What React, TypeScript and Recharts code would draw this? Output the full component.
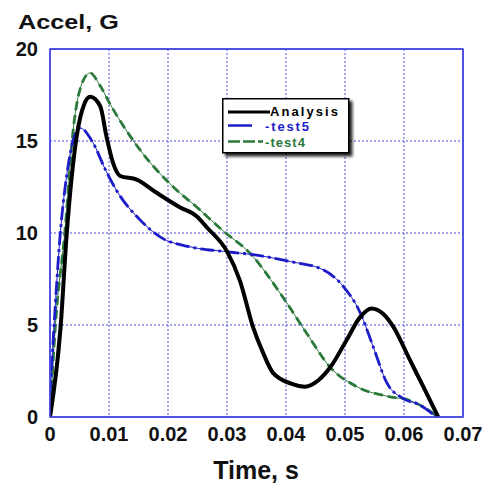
import React from "react"
import { LineChart, Line, XAxis, YAxis, CartesianGrid, ReferenceArea } from "recharts"

// time (s), accel (G)
const analysisT = [0, 0.0018, 0.0028, 0.0045, 0.0058, 0.0068, 0.0085, 0.0096, 0.0107, 0.0119, 0.0147, 0.018, 0.022, 0.0249, 0.0266, 0.03, 0.0322, 0.0344, 0.0361, 0.0378, 0.041, 0.0432, 0.0455, 0.0475, 0.0503, 0.0525, 0.0545, 0.0565, 0.0582, 0.061, 0.0635, 0.0658]
const analysisG = [0, 4.9, 9.8, 15.2, 17.0, 17.4, 16.9, 15.2, 13.8, 13.1, 12.9, 12.2, 11.4, 10.9, 10.3, 9.0, 7.4, 4.9, 3.5, 2.4, 1.8, 1.65, 2.0, 2.7, 4.2, 5.4, 5.9, 5.6, 4.9, 3.1, 1.5, 0]

const test5T = [0, 0.0006, 0.0017, 0.003, 0.0042, 0.0051, 0.0073, 0.0093, 0.0113, 0.0153, 0.0186, 0.0237, 0.0294, 0.035, 0.0407, 0.0463, 0.0497, 0.0526, 0.0548, 0.0571, 0.0599, 0.0627, 0.0655]
const test5G = [1.2, 4.5, 9.8, 13.5, 15.3, 15.7, 14.9, 13.5, 12.3, 10.7, 9.8, 9.25, 9.0, 8.8, 8.45, 8.0, 7.1, 5.65, 3.8, 1.85, 1.0, 0.65, 0]

const test4T = [0, 0.0009, 0.0025, 0.004, 0.0055, 0.0068, 0.0085, 0.0102, 0.0153, 0.0209, 0.0249, 0.0294, 0.0339, 0.0395, 0.0435, 0.0475, 0.052, 0.0576, 0.061, 0.0635, 0.0658]
const test4G = [0, 4.9, 10, 15.8, 18.2, 18.7, 18.0, 17.0, 14.5, 12.5, 11.4, 10.1, 8.9, 6.5, 4.55, 2.7, 1.65, 1.1, 0.9, 0.5, 0]

const xTicks = [0, 0.01, 0.02, 0.03, 0.04, 0.05, 0.06, 0.07]
const yTicks = [0, 5, 10, 15, 20]

const BLUE = "#1c1cc8"
const GREEN = "#2b7a3b"
const GRID = "#4a4ae0"
const FONT = '"Liberation Sans", Arial, sans-serif'

const toRows = (t: number[], g: number[]) => t.map((x, i) => ({ t: x, g: g[i] }))
const analysis = toRows(analysisT, analysisG)
const test5 = toRows(test5T, test5G)
const test4 = toRows(test4T, test4G)

const tickStyle = { fontSize: 20, fontWeight: "bold" as const, fill: "#111", fontFamily: FONT }

function LegendBox() {
  return (
    <svg width={132} height={60} style={{ position: "absolute", left: 222, top: 98, overflow: "visible", pointerEvents: "none" }}>
      <rect x={0.75} y={0.75} width={126} height={54} fill="#fff" stroke="#000" strokeWidth={1.5} style={{ filter: "drop-shadow(3px 3px 1.5px rgba(0,0,0,0.85))" }} />
      <line x1={6} x2={48} y1={14} y2={14} stroke="#000" strokeWidth={3} />
      <text x={48} y={18} fontFamily={FONT} fontWeight="bold" fontSize={13} fill="#000" textLength={68}>Analysis</text>
      <line x1={6} x2={30} y1={27.5} y2={27.5} stroke={BLUE} strokeWidth={2.5} />
      <text x={43} y={32.5} fontFamily={FONT} fontWeight="bold" fontSize={13} fill={BLUE} textLength={44}>-test5</text>
      <line x1={6} x2={41} y1={43.5} y2={43.5} stroke={GREEN} strokeWidth={2.5} strokeDasharray="12 3" />
      <text x={43} y={48.5} fontFamily={FONT} fontWeight="bold" fontSize={13} fill={GREEN} textLength={40}>-test4</text>
    </svg>
  )
}

export default function App() {
  return (
    <div style={{ position: "absolute", left: 0, top: 0, width: 486, height: 483, background: "#fff" }}>
      <LineChart width={486} height={483} margin={{ top: 49, right: 23, left: 0, bottom: 0 }}>
        <CartesianGrid stroke={GRID} strokeDasharray="2 2" strokeWidth={1} />
        <XAxis
          dataKey="t"
          type="number"
          domain={[0, 0.07]}
          ticks={xTicks}
          allowDataOverflow
          height={66}
          axisLine={{ stroke: GRID, strokeWidth: 1.5 }}
          tickLine={false}
          tickSize={0}
          tickMargin={10}
          tick={tickStyle}
          tickFormatter={(v: number) => String(v)}
        />
        <XAxis
          xAxisId="top"
          dataKey="t"
          type="number"
          orientation="top"
          domain={[0, 0.07]}
          ticks={xTicks}
          height={1}
          mirror
          tick={false}
          tickSize={5}
          axisLine={{ stroke: GRID, strokeWidth: 1.5 }}
          tickLine={{ stroke: GRID, strokeWidth: 1.5 }}
        />
        <YAxis
          dataKey="g"
          type="number"
          domain={[0, 20]}
          ticks={yTicks}
          width={50}
          axisLine={{ stroke: GRID, strokeWidth: 1.5 }}
          tickLine={false}
          tickSize={0}
          tickMargin={12}
          tick={tickStyle}
        />
        <YAxis
          yAxisId="right"
          orientation="right"
          domain={[0, 20]}
          ticks={yTicks}
          width={1}
          mirror
          tick={false}
          tickSize={5}
          axisLine={{ stroke: GRID, strokeWidth: 1.5 }}
          tickLine={{ stroke: GRID, strokeWidth: 1.5 }}
        />
        <ReferenceArea x1={0} x2={0.07} y1={0} y2={20} fill="none" fillOpacity={0} stroke={GRID} strokeWidth={1.5} />
        {/* thin connectors under the dashed series */}
        <Line data={test4} dataKey="g" type="monotone" stroke={GREEN} strokeWidth={1} dot={false} isAnimationActive={false} legendType="none" />
        <Line data={test4} dataKey="g" type="monotone" stroke={GREEN} strokeWidth={2.8} strokeDasharray="9 5" dot={false} isAnimationActive={false} name="test4" />
        <Line data={test5} dataKey="g" type="monotone" stroke={BLUE} strokeWidth={1} dot={false} isAnimationActive={false} legendType="none" />
        <Line data={test5} dataKey="g" type="monotone" stroke={BLUE} strokeWidth={2.8} strokeDasharray="14 4 3 4" dot={false} isAnimationActive={false} name="test5" />
        <Line data={analysis} dataKey="g" type="monotone" stroke="#000" strokeWidth={4} dot={false} isAnimationActive={false} name="Analysis" />
      </LineChart>
      <LegendBox />
      <svg width={486} height={483} style={{ position: "absolute", left: 0, top: 0, pointerEvents: "none" }}>
        <text x={18} y={29} fontFamily={FONT} fontWeight="bold" fontSize={21} fill="#111" transform="translate(18 0) scale(1.2 1) translate(-18 0)">Accel, G</text>
        <text x={256} y={479} textAnchor="middle" fontFamily={FONT} fontWeight="bold" fontSize={25} fill="#111">Time, s</text>
      </svg>
    </div>
  )
}
